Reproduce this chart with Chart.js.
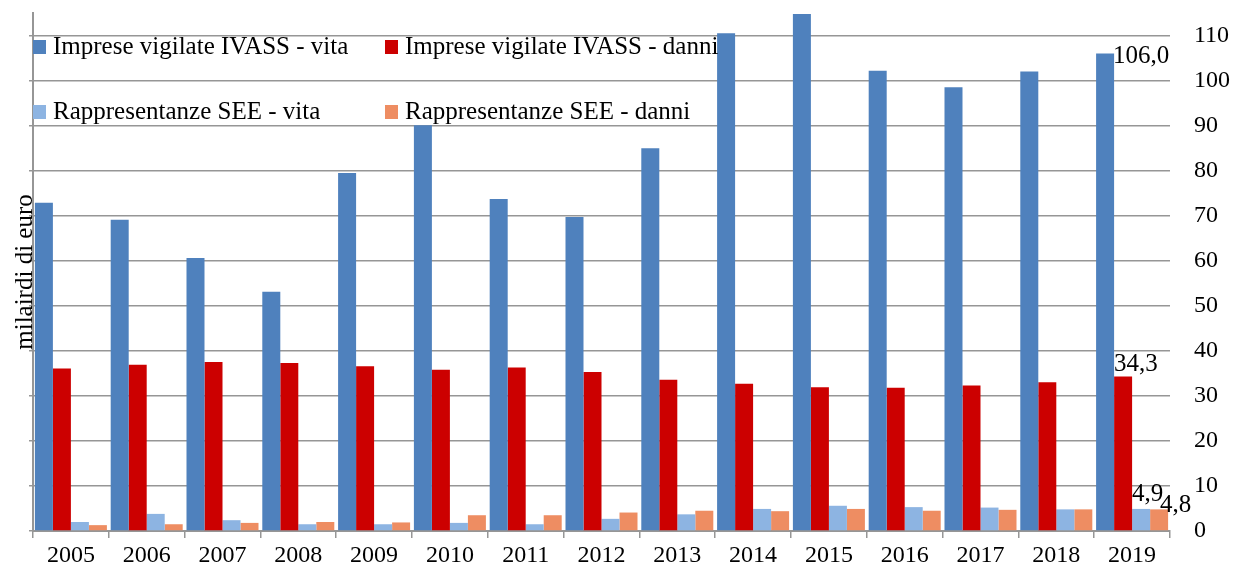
<!DOCTYPE html>
<html lang="it">
<head>
<meta charset="UTF-8">
<title>Premi raccolti</title>
<script src="https://cdn.jsdelivr.net/npm/chart.js"></script>
<style>
    html, body { margin: 0; padding: 0; background: #ffffff; }
    #wrap { width: 1235px; height: 574px; }
</style>
</head>
<body>
<div id="wrap"><canvas id="chart" width="1235" height="574"></canvas></div>
<script>
// dati (miliardi di euro)
const anni = ['2005', '2006', '2007', '2008', '2009', '2010', '2011', '2012', '2013', '2014', '2015', '2016', '2017', '2018', '2019'];
const vitaIvass = [72.9, 69.1, 60.6, 53.1, 79.5, 90.1, 73.7, 69.7, 85.0, 110.5, 114.8, 102.2, 98.5, 102.0, 106.0];
const danniIvass = [36.1, 36.9, 37.5, 37.3, 36.6, 35.8, 36.3, 35.3, 33.6, 32.7, 31.9, 31.8, 32.3, 33.0, 34.3];
const vitaSee = [2.0, 3.8, 2.4, 1.5, 1.5, 1.8, 1.5, 2.7, 3.7, 4.9, 5.6, 5.3, 5.2, 4.8, 4.9];
const danniSee = [1.3, 1.5, 1.8, 2.0, 1.9, 3.5, 3.5, 4.1, 4.5, 4.4, 4.9, 4.5, 4.7, 4.8, 4.8];
const yTicks = [0, 10, 20, 30, 40, 50, 60, 70, 80, 90, 100, 110];

const FONT = "'Liberation Serif', 'DejaVu Serif', serif";
const GRID = '#969696';

// legenda dentro l'area del grafico, sopra le barre
const legendaInterna = {
    id: 'legendaInterna',
    afterDraw(chart) {
        const ctx = chart.ctx;
        const a = chart.chartArea;
        const pos = [[0, 34], [352, 34], [0, 99], [352, 99]];
        ctx.save();
        ctx.font = '25px ' + FONT;
        ctx.textBaseline = 'middle';
        chart.data.datasets.forEach((ds, i) => {
            const x = a.left + pos[i][0];
            const y = a.top + pos[i][1];
            ctx.fillStyle = ds.backgroundColor;
            ctx.fillRect(x, y - 7, 13, 14);
            ctx.fillStyle = '#000';
            ctx.fillText(ds.label, x + 20, y);
        });
        ctx.restore();
    }
};

// etichette solo per l'ultimo anno
const etichette = {
    id: 'etichette',
    afterDatasetsDraw(chart) {
        const ctx = chart.ctx;
        ctx.save();
        ctx.font = '25px ' + FONT;
        ctx.fillStyle = '#000';
        ctx.textBaseline = 'middle';
        ctx.textAlign = 'left';
        const off = [[1, 3], [0, -12], [0, -14], [10, -4]];
        chart.data.datasets.forEach((ds, i) => {
            const meta = chart.getDatasetMeta(i);
            const last = ds.data.length - 1;
            const el = meta.data[last];
            let x = el.x - el.width / 2 + off[i][0];
            if (i === 0) x = el.x + el.width / 2 - 1;
            const txt = ds.data[last].toFixed(1).replace('.', ',');
            ctx.fillText(txt, x, el.y + off[i][1]);
        });
        ctx.restore();
    }
};

new Chart(document.getElementById('chart').getContext('2d'), {
    type: 'bar',
    data: {
        labels: anni,
        datasets: [
            { label: 'Imprese vigilate IVASS - vita', data: vitaIvass, backgroundColor: '#4F81BD' },
            { label: 'Imprese vigilate IVASS - danni', data: danniIvass, backgroundColor: '#CC0000' },
            { label: 'Rappresentanze SEE - vita', data: vitaSee, backgroundColor: '#8DB4E2' },
            { label: 'Rappresentanze SEE - danni', data: danniSee, backgroundColor: '#EE8D62' }
        ]
    },
    options: {
        responsive: false,
        animation: false,
        layout: { padding: { top: 13, right: 0, left: 0, bottom: 0 } },
        datasets: { bar: { categoryPercentage: 0.95, barPercentage: 1.0 } },
        plugins: { legend: { display: false }, tooltip: { enabled: false } },
        scales: {
            x: {
                grid: { display: true, drawOnChartArea: false, offset: true, tickLength: 7, color: GRID, lineWidth: 1.5 },
                border: { display: true, color: GRID, width: 2 },
                ticks: { color: '#000', font: { family: FONT, size: 24 }, padding: 3 },
                afterFit(s) { s.height = 43; s.paddingLeft = 0; s.paddingRight = 0; }
            },
            y: {
                position: 'right',
                min: 0,
                max: 115,
                bounds: 'data',
                afterBuildTicks(s) { s.ticks = yTicks.map(v => ({ value: v })); },
                grid: { color: GRID, lineWidth: 1.5, drawTicks: false },
                border: { display: false },
                ticks: { color: '#000', font: { family: FONT, size: 24 }, padding: 24, crossAlign: 'near' },
                afterFit(s) { s.width = 65; s.paddingTop = 0; s.paddingBottom = 0; }
            },
            ySx: {
                position: 'left',
                min: 0,
                max: 115,
                bounds: 'data',
                afterBuildTicks(s) { s.ticks = yTicks.map(v => ({ value: v })); },
                grid: { drawOnChartArea: false, tickLength: 4, color: GRID, lineWidth: 1.5 },
                border: { display: true, color: GRID, width: 2 },
                ticks: { display: false },
                title: { display: true, text: 'milairdi di euro', color: '#000', font: { family: FONT, size: 25 }, padding: { top: 10, bottom: 0 } },
                afterFit(s) { s.width = 33; s.paddingTop = 0; s.paddingBottom = 0; }
            }
        }
    },
    plugins: [etichette, legendaInterna]
});
</script>
</body>
</html>
